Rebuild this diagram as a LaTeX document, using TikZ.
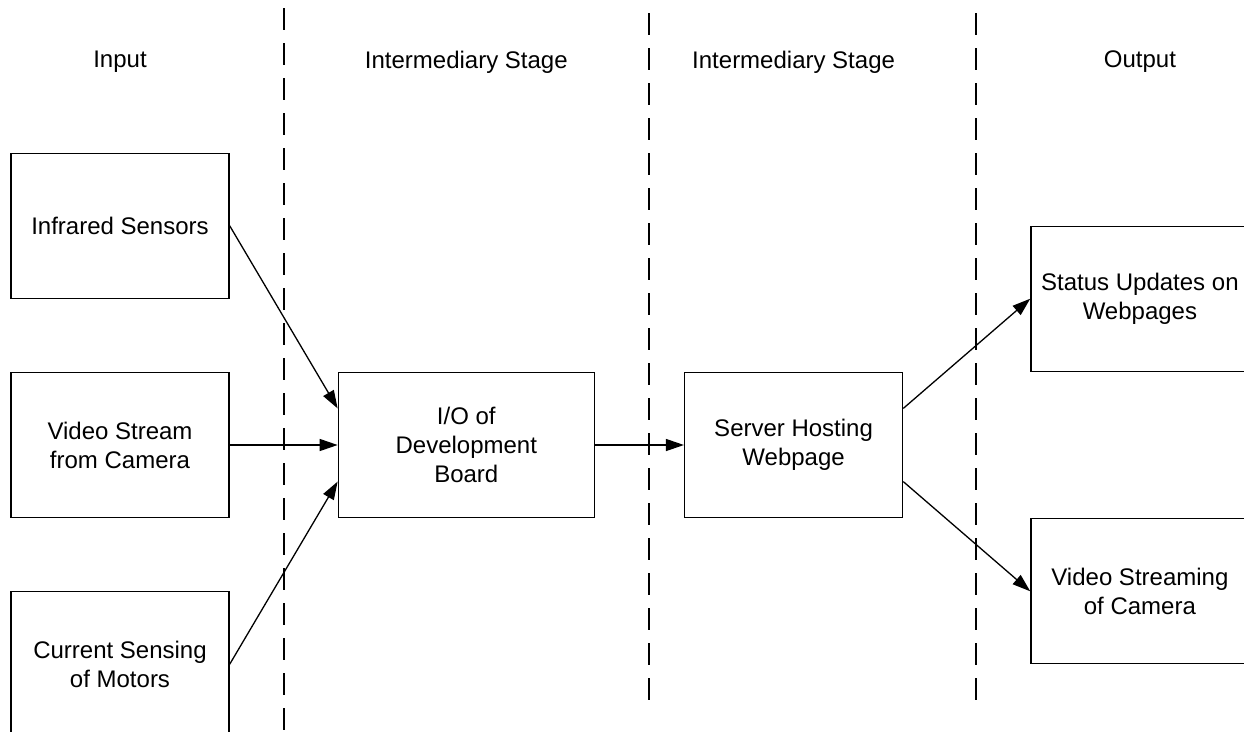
\documentclass[tikz,border=0pt]{standalone}
\usepackage{fontspec}
\setmainfont{Liberation Sans}
\usepackage{tikz}
\usepackage{xcolor}
\usetikzlibrary{positioning}
\usetikzlibrary{arrows.meta}
\usetikzlibrary{calc}
\tikzstyle{block}=[draw, line width=1.3pt, minimum width=218pt, minimum height=145pt, align=center, font=\fontsize{24}{29}\selectfont]
\tikzstyle{stage}=[font=\fontsize{24}{29}\selectfont]
\tikzstyle{flow}=[-{Triangle[length=18pt, width=12pt]}, line width=1.3pt]
\tikzstyle{divider}=[line width=1.3pt, dash pattern=on 22pt off 13pt]

\begin{document}
\begin{tikzpicture}[x=1pt, y=-1pt, node distance = 73pt]
    \clip (0,0) rectangle (1244,731);

    \node[block]  (video)     at (120,445)                            {Video Stream\\from Camera};
    \node[block]  (infrared)  [above = of video]                      {Infrared Sensors};
    \node[block]  (current)   [below = of video]                      {Current Sensing\\of Motors};
    \node[block, minimum width=256pt] (io) [right = 108pt of video]   {I/O of\\Development\\Board};
    \node[block]  (server)    [right = 89pt of io]                    {Server Hosting\\Webpage};
    \node[block]  (status)    [above right = 0pt and 127pt of server] {Status Updates on\\Webpages};
    \node[block]  (streaming) [below right = 0pt and 127pt of server] {Video Streaming\\of Camera};

    \node[stage]  (input)     at (120,62)          {Input};
    \node[stage]  (inter1)    at (io |- input)     {Intermediary Stage};
    \node[stage]  (inter2)    at (server |- input) {Intermediary Stage};
    \node[stage]  (output)    at (status |- input) {Output};

    % stage borders
    \draw[divider] (284,8)  -- (284,731);
    \draw[divider] (649,13) -- (649,700);
    \draw[divider] (976,13) -- (976,700);

    \coordinate (ioup)       at ($(io.north west)!.25!(io.south west)$);
    \coordinate (iodown)     at ($(io.north west)!.75!(io.south west)$);
    \coordinate (serverup)   at ($(server.north east)!.25!(server.south east)$);
    \coordinate (serverdown) at ($(server.north east)!.75!(server.south east)$);

    \draw[flow] (infrared.east) -- (ioup);
    \draw[flow] (video)         -- (io);
    \draw[flow] (current.east)  -- (iodown);
    \draw[flow] (io)            -- (server);
    \draw[flow] (serverup)      -- (status.west);
    \draw[flow] (serverdown)    -- (streaming.west);
\end{tikzpicture}
\end{document}
